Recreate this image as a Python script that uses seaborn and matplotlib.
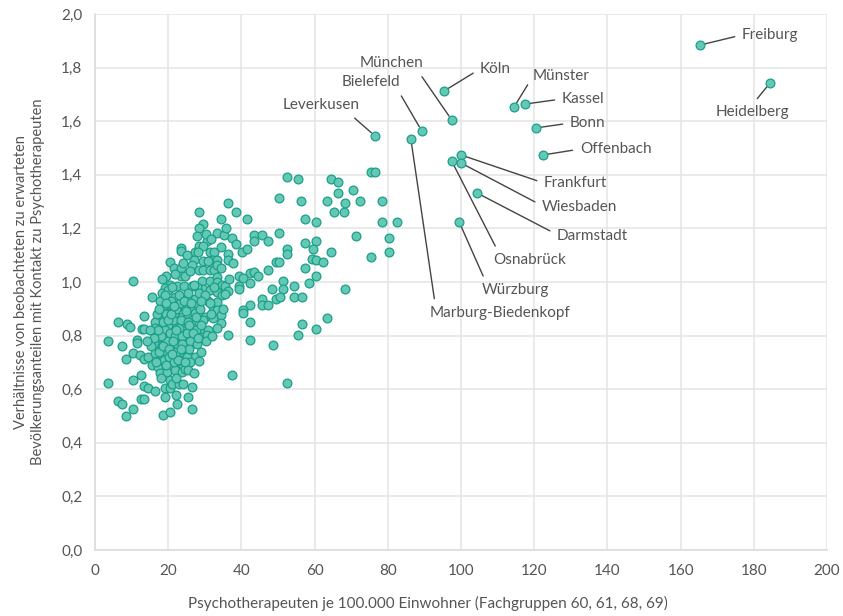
import matplotlib
matplotlib.use("Agg")
import matplotlib.pyplot as plt
import seaborn as sns
import pandas as pd

# ---------------- data ----------------
# unlabeled districts: (Psychotherapeuten je 100.000 EW, Verhältnis)
x_vals = [
    28.5, 29.6, 28.5, 30.5, 28.5, 29.6, 31.4, 32.5, 23.5, 23.5, 27.3, 28.2, 32.3, 27.1, 20.5, 21.6, 23.5, 26.4,
    28.5, 29.6, 31.4, 32.5, 19.4, 23.5, 24.6, 10.5, 20.5, 22.3, 24.4, 26.4, 29.3, 31.4,
    19.1, 18.2, 20.0, 15.5, 21.9, 23.5, 25.5, 27.3, 29.6, 31.4,
    18.7, 20.9, 22.8, 24.6, 26.4, 28.2, 32.3,
    13.5, 18.2, 19.6, 21.9, 23.7, 25.5, 27.3, 30.0, 32.3,
    6.4, 8.7, 9.6, 12.8, 13.5,
    16.4, 16.4, 16.4, 18.2, 20.0, 22.3, 24.1, 26.4, 28.7, 31.0,
    3.5, 11.4, 11.4, 7.5,
    17.3, 19.1, 20.9, 22.8, 24.6, 26.9, 29.1, 30.5,
    16.4, 18.2, 20.5, 22.8, 24.6, 27.3,
    10.5, 12.3, 13.5, 14.6, 8.5,
    16.4, 18.2, 19.6, 21.4, 23.7, 25.5, 27.3, 28.5,
    15.5, 17.3, 19.1, 20.9, 22.8, 24.1,
    3.5, 10.5, 12.5, 13.5, 14.6, 16.4,
    17.8, 19.6, 21.9, 23.7, 24.6, 20.5, 19.1, 20.5,
    12.5, 13.5, 6.4, 7.5, 8.5, 10.5, 18.5, 20.5, 22.3, 25.5, 26.4,
    # middle range
    52.4, 55.4, 64.4, 66.3, 66.3, 50.4, 56.3, 63.3, 36.4, 38.4, 65.4, 68.0, 34.4, 41.4, 57.4, 60.4,
    33.2, 35.3, 37.3, 43.5, 43.5, 45.5, 47.4, 50.4, 57.4, 60.4, 59.5, 64.4, 34.4, 40.3, 41.4, 52.4,
    52.4, 36.4, 36.4, 33.2, 33.2, 49.5, 50.4, 59.2, 60.4, 62.4, 57.4, 47.4, 34.4, 42.4, 43.5, 44.4,
    39.4, 40.5, 33.2, 33.2, 60.4, 51.5, 58.5, 42.4, 34.6, 35.5, 36.4, 39.3, 39.3, 48.3, 51.5, 54.4,
    33.2, 34.6, 35.5, 49.5, 50.5, 45.5, 45.5, 47.4, 54.4, 56.5, 42.4, 40.5, 40.5, 33.2, 33.2, 34.4,
    34.4, 33.2, 42.4, 36.4, 42.4, 48.5, 55.4, 56.5, 60.4, 63.5, 37.3, 52.4,
    # upper middle
    75.4, 76.5, 70.5, 68.3, 72.4, 78.4, 78.4, 82.5, 71.3, 80.3, 80.3, 75.4, 68.3,
    # dense core
    17.0, 18.5, 19.0, 19.8, 20.5, 21.2, 21.8, 22.5, 23.0, 23.8, 24.5, 25.2, 26.0, 17.5, 18.8, 20.2,
    21.5, 22.0, 23.2, 24.0, 25.0, 16.8, 19.5, 20.8, 22.0, 23.3, 24.8, 26.5, 27.5, 28.0, 17.8, 19.0,
    21.0, 25.5, 27.8, 28.8, 29.5, 30.8, 31.8, 29.0, 26.0, 18.0, 21.0, 23.0, 22.0, 19.0,
    17.5, 18.0, 18.6, 19.4, 19.9, 20.3, 20.8, 21.3, 21.7, 22.2, 22.6, 22.9, 23.4, 23.9, 24.3, 24.7,
    25.3, 25.8, 26.2, 26.7, 27.0, 27.6, 28.1, 28.4, 29.0, 29.4, 30.0, 30.3, 30.9, 31.5, 31.9, 32.4,
    30.2, 31.8, 26.0, 25.0, 24.0, 27.8, 22.0, 24.0, 25.5, 27.0, 26.5, 17.2, 16.0, 15.2, 15.0, 14.2,
    18.3, 21.9, 19.5, 21.0, 23.5, 25.8, 28.9, 35.0, 36.5, 37.8, 38.5, 35.8,
]
y_vals = [
    1.263, 1.215, 1.203, 1.153, 1.134, 1.134, 1.113, 1.113, 1.126, 1.116, 1.113, 1.113, 1.082, 1.082, 1.073, 1.054, 1.054, 1.062,
    1.045, 1.045, 1.045, 1.045, 1.022, 1.022, 1.022, 1.004, 0.989, 0.985, 0.985, 0.985, 1.004, 1.004,
    0.977, 0.960, 0.970, 0.945, 0.945, 0.943, 0.943, 0.935, 0.973, 0.970,
    0.910, 0.914, 0.908, 0.908, 0.908, 0.914, 0.908,
    0.875, 0.871, 0.883, 0.883, 0.871, 0.877, 0.883, 0.871, 0.865,
    0.852, 0.843, 0.833, 0.823, 0.823,
    0.852, 0.827, 0.809, 0.833, 0.840, 0.836, 0.823, 0.833, 0.815, 0.821,
    0.781, 0.784, 0.774, 0.763,
    0.796, 0.790, 0.790, 0.803, 0.790, 0.796, 0.796, 0.803,
    0.771, 0.765, 0.771, 0.765, 0.765, 0.771,
    0.734, 0.728, 0.712, 0.721, 0.713,
    0.734, 0.728, 0.740, 0.734, 0.734, 0.728, 0.721, 0.705,
    0.690, 0.684, 0.697, 0.684, 0.678, 0.690,
    0.625, 0.634, 0.653, 0.612, 0.603, 0.595,
    0.660, 0.665, 0.672, 0.665, 0.674, 0.634, 0.603, 0.603,
    0.562, 0.562, 0.556, 0.544, 0.501, 0.525, 0.504, 0.514, 0.544, 0.572, 0.525,
    # middle range
    1.393, 1.383, 1.383, 1.372, 1.333, 1.313, 1.303, 1.303, 1.294, 1.263, 1.263, 1.262, 1.234, 1.234, 1.234, 1.223,
    1.184, 1.175, 1.163, 1.175, 1.153, 1.175, 1.153, 1.184, 1.144, 1.153, 1.123, 1.113, 1.132, 1.113, 1.123, 1.123,
    1.103, 1.103, 1.082, 1.082, 1.064, 1.073, 1.073, 1.085, 1.082, 1.073, 1.054, 1.045, 1.054, 1.032, 1.036, 1.024,
    1.022, 1.014, 1.020, 1.000, 1.024, 1.004, 0.995, 0.995, 0.989, 0.985, 0.968, 0.985, 0.974, 0.974, 0.974, 0.985,
    0.964, 0.952, 0.955, 0.935, 0.945, 0.935, 0.914, 0.914, 0.945, 0.945, 0.914, 0.896, 0.883, 0.927, 0.896, 0.877,
    0.846, 0.827, 0.852, 0.802, 0.784, 0.765, 0.802, 0.843, 0.823, 0.864, 0.653, 0.624,
    # upper middle
    1.410, 1.410, 1.343, 1.295, 1.302, 1.302, 1.224, 1.224, 1.172, 1.164, 1.112, 1.093, 0.974,
    # dense core
    0.88, 0.85, 0.82, 0.78, 0.81, 0.86, 0.80, 0.77, 0.83, 0.80, 0.85, 0.81, 0.78, 0.74, 0.71, 0.72,
    0.70, 0.74, 0.71, 0.75, 0.72, 0.70, 0.88, 0.93, 0.90, 0.92, 0.89, 0.86, 0.82, 0.77, 0.93, 0.95,
    0.98, 0.96, 0.98, 0.90, 0.86, 0.93, 0.88, 0.74, 0.70, 0.64, 0.62, 0.62, 0.58, 0.57,
    0.90, 0.80, 0.76, 0.92, 0.86, 0.75, 0.88, 0.78, 0.91, 0.82, 0.71, 0.95, 0.86, 0.77, 0.93, 0.70,
    0.85, 0.75, 0.92, 0.81, 0.99, 0.87, 0.79, 0.96, 0.84, 1.08, 0.95, 0.78, 1.08, 0.92, 0.80, 0.98,
    1.18, 1.16, 1.04, 1.10, 1.07, 1.17, 0.64, 0.62, 0.67, 0.66, 0.61, 0.82, 0.79, 0.76, 0.82, 0.78,
    1.01, 1.03, 0.69, 0.73, 0.75, 0.84, 0.93, 0.90, 1.01, 1.07, 1.14, 1.20,
]

# labeled districts
city_names = ["Freiburg", "Heidelberg", "Köln", "München", "Bielefeld", "Marburg-Biedenkopf",
              "Leverkusen", "Münster", "Kassel", "Bonn", "Offenbach", "Frankfurt", "Wiesbaden",
              "Osnabrück", "Darmstadt", "Würzburg"]
city_x = [165.3, 184.4, 95.4, 97.5, 89.3, 86.3, 76.5, 114.5, 117.5, 120.5, 122.4, 100.0, 100.0, 97.5, 104.4, 99.5]
city_y = [1.884, 1.742, 1.713, 1.604, 1.563, 1.533, 1.545, 1.653, 1.664, 1.575, 1.474, 1.474, 1.444, 1.450, 1.332, 1.224]

x_ticks = [0, 20, 40, 60, 80, 100, 120, 140, 160, 180, 200]
y_ticks = [0.0, 0.2, 0.4, 0.6, 0.8, 1.0, 1.2, 1.4, 1.6, 1.8, 2.0]
y_tick_labels = ["0,0", "0,2", "0,4", "0,6", "0,8", "1,0", "1,2", "1,4", "1,6", "1,8", "2,0"]

# label layout (text position in data units, alignment, line anchor on text box)
label_pos = {
    "Freiburg": (176.8, 1.922, "left", (0, 0.5)),
    "Heidelberg": (179.5, 1.634, "center", (0.5, 1.0)),
    "Köln": (105.2, 1.795, "left", (0, 0.5)),
    "München": (81.1, 1.817, "center", (0.9, 0.0)),
    "Bielefeld": (75.4, 1.746, "center", (0.95, 0.0)),
    "Marburg-Biedenkopf": (110.7, 0.884, "center", (0.04, 1.0)),
    "Leverkusen": (61.7, 1.660, "center", (0.85, 0.0)),
    "Münster": (119.7, 1.769, "left", (0, 0.5)),
    "Kassel": (127.6, 1.683, "left", (0, 0.5)),
    "Bonn": (129.8, 1.593, "left", (0, 0.5)),
    "Offenbach": (132.5, 1.496, "left", (0, 0.5)),
    "Frankfurt": (122.7, 1.369, "left", (0, 0.5)),
    "Wiesbaden": (122.1, 1.280, "left", (0, 0.6)),
    "Osnabrück": (118.9, 1.082, "center", (0.07, 1.0)),
    "Darmstadt": (126.2, 1.172, "left", (0, 0.6)),
    "Würzburg": (115.0, 0.970, "center", (0.06, 1.0)),
}

# ---------------- plot ----------------
sns.set_theme(style="whitegrid")
plt.rcParams["font.family"] = ["Lato", "DejaVu Sans"]

df = pd.DataFrame({"x": x_vals + city_x, "y": y_vals + city_y})

fig = plt.figure(figsize=(8.43, 6.16), dpi=100)
ax = fig.add_axes([95 / 843, 1 - 550 / 616, 732 / 843, 536 / 616])

FACE = "#63c9b6"
EDGE = "#1c9f88"
sns.scatterplot(data=df, x="x", y="y", ax=ax, s=40, color=FACE, edgecolor=EDGE,
                linewidth=0.9, zorder=4, clip_on=False)

for name, cx, cy in zip(city_names, city_x, city_y):
    tx, ty, ha, rp = label_pos[name]
    ax.annotate(name, xy=(cx, cy), xytext=(tx, ty), ha=ha, va="center",
                fontsize=11, color="#555555",
                arrowprops=dict(arrowstyle="-", color="#444444", lw=1.0,
                                relpos=rp, shrinkA=3, shrinkB=3.5),
                zorder=3)

ax.set_xlim(0, 200)
ax.set_ylim(0, 2.0)
ax.set_xticks(x_ticks)
ax.set_xticklabels([str(t) for t in x_ticks])
ax.set_yticks(y_ticks)
ax.set_yticklabels(y_tick_labels)

ax.grid(True, color="#e6e6e6", lw=1.2)
ax.set_axisbelow(True)
for side in ["top", "right"]:
    ax.spines[side].set_visible(False)
for side in ["left", "bottom"]:
    ax.spines[side].set_color("#dcdcdc")
    ax.spines[side].set_linewidth(1.2)
ax.set_facecolor("white")

ax.tick_params(axis="both", length=0, labelsize=11, labelcolor="#555555")
ax.tick_params(axis="x", pad=10)
ax.tick_params(axis="y", pad=9)

ax.set_xlabel("Psychotherapeuten je 100.000 Einwohner (Fachgruppen 60, 61, 68, 69)",
              fontsize=11, color="#555555")
ax.xaxis.set_label_coords((428 - 95) / 732, -46 / 536)
ax.set_ylabel("Verhältnisse von beobachteten zu erwarteten\n"
              "Bevölkerungsanteilen mit Kontakt zu Psychotherapeuten",
              fontsize=10.5, color="#555555", labelpad=12, linespacing=1.25)

fig.savefig("out.png", dpi=100, facecolor="white")
